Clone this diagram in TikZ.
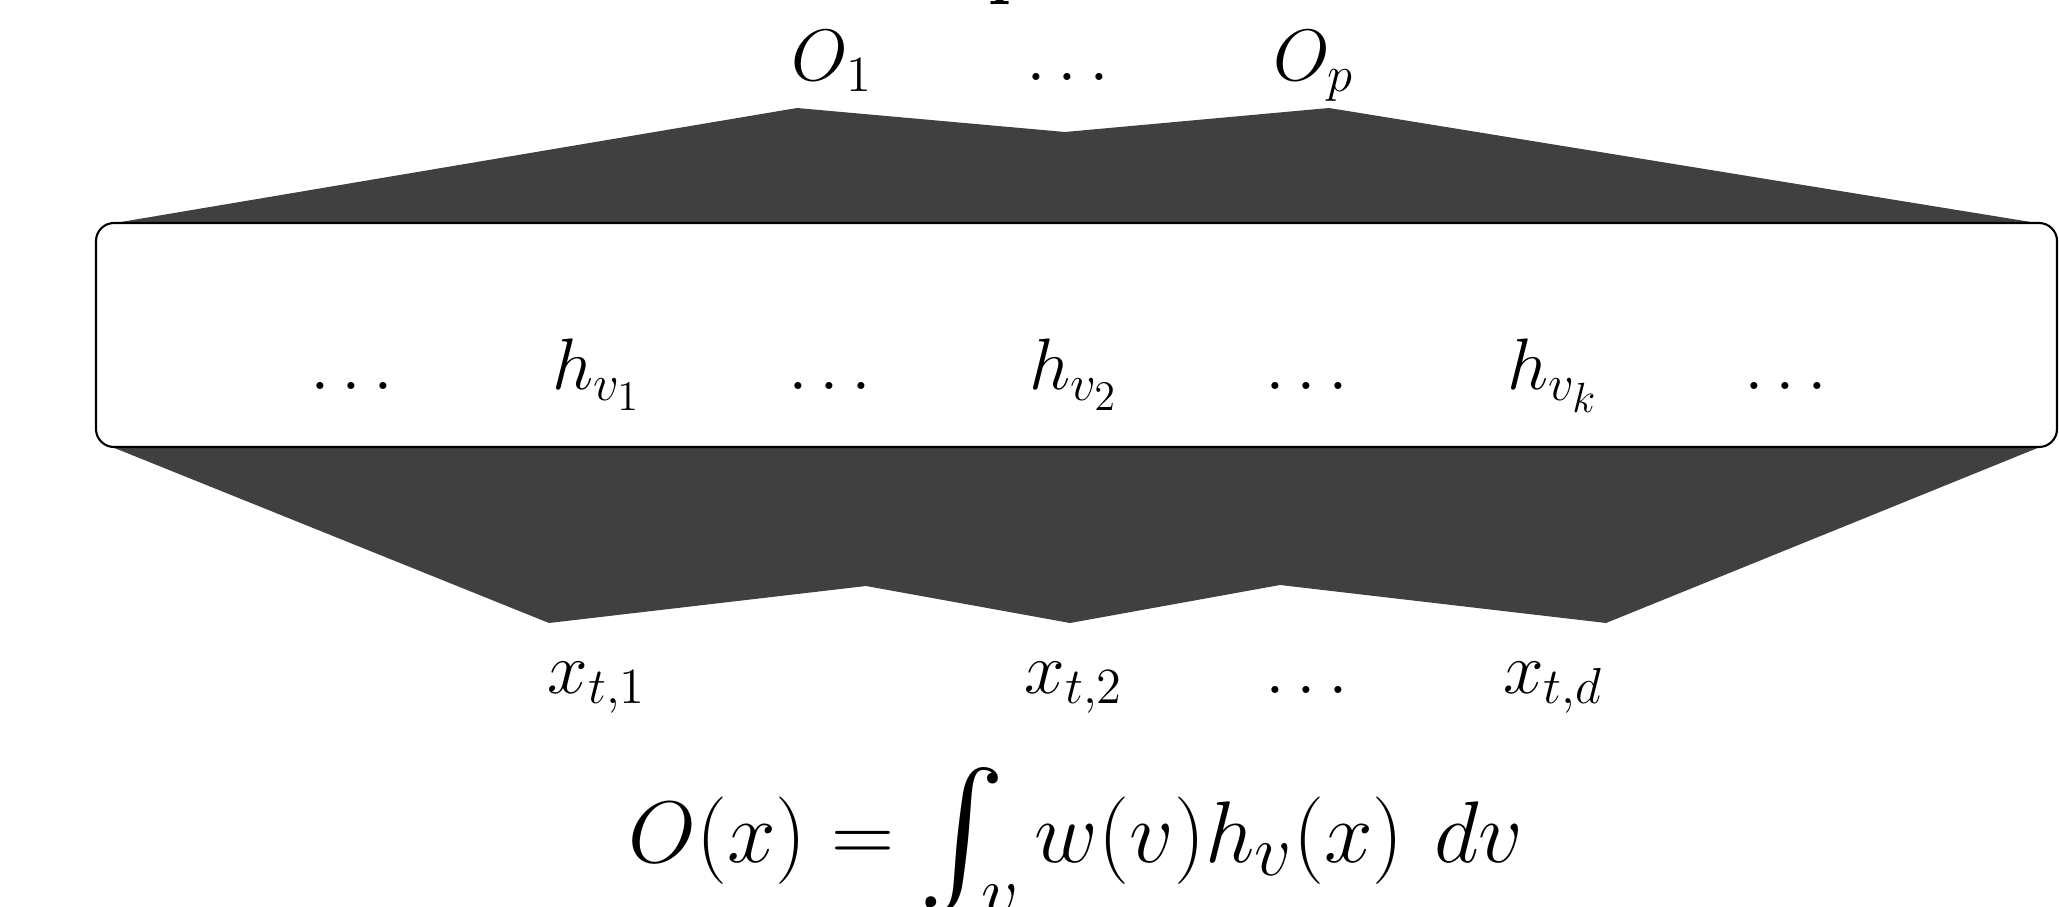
\documentclass[tikz,border=0pt]{standalone}
\usepackage{amsmath}
\usepackage{graphicx}
\usepackage{xcolor}
\usepackage{tikz}
\definecolor{cdark}{HTML}{404040}
\tikzset{lbl/.style={font=\huge,anchor=base,inner sep=0pt},
  fan/.style={fill=cdark,draw=none},
  layer/.style={draw=black,fill=white,line width=0.6pt,rounded corners=0.18cm,minimum width=19.61cm,minimum height=2.24cm,inner sep=0pt}}
\newcommand{\bigintop}{\mathop{\vcenter{\hbox{\scalebox{1.5}{$\int$}}}}\nolimits}

\begin{document}
\begin{tikzpicture}

\useasboundingbox (0,0) rectangle (20.59,-9.07);
\clip (0,0) rectangle (20.59,-9.07);

% ===== title (cut off at the top edge) =====
\node[anchor=base west,inner sep=0pt,font=\huge\bfseries] (title) at (9.88,0.09) {p};

% ===== output side =====
\node[lbl] (o1) at (8.32,-0.81) {$O_1$};
\node[lbl] (odots) at (10.74,-0.81) {$\dots$};
\node[lbl] (op) at (13.14,-0.81) {$O_p$};
\fill[fan] (1.15,-2.23) -- (7.97,-1.08) -- (10.65,-1.32) -- (13.29,-1.08) -- (20.37,-2.23) -- cycle;

% ===== input side =====
\fill[fan] (1.12,-4.47) -- (5.49,-6.23) -- (8.66,-5.86) -- (10.70,-6.23) -- (12.80,-5.85) -- (16.06,-6.23) -- (20.40,-4.47) -- cycle;
\node[lbl] (x1) at (5.97,-6.93) {$x_{t,1}$};
\node[lbl] (x2) at (10.74,-6.93) {$x_{t,2}$};
\node[lbl] (xdots) at (13.13,-6.93) {$\dots$};
\node[lbl] (xd) at (15.53,-6.93) {$x_{t,d}$};

% ===== hidden units =====
\node[layer] (hid) at (10.765,-3.35) {};
\node[lbl] (hdots0) at (3.58,-3.90) {$\dots$};
\node[lbl] (h1) at (5.97,-3.90) {$h_{v_1}$};
\node[lbl] (hdots1) at (8.36,-3.90) {$\dots$};
\node[lbl] (h2) at (10.74,-3.90) {$h_{v_2}$};
\node[lbl] (hdots2) at (13.13,-3.90) {$\dots$};
\node[lbl] (hk) at (15.53,-3.90) {$h_{v_k}$};
\node[lbl] (hdots3) at (17.92,-3.90) {$\dots$};

% ===== integral form =====
\node[lbl,font=\fontsize{29}{34}\selectfont] (eq) at (10.76,-8.62) {$O(x) = \bigintop_{\!\!v} w(v)h_v(x)\ dv$};

\end{tikzpicture}
\end{document}
